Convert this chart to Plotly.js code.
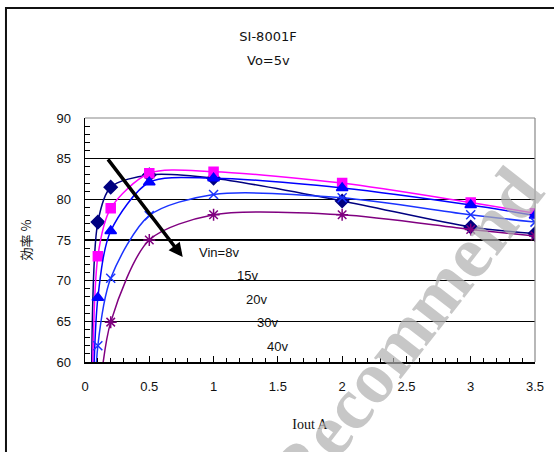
<!DOCTYPE html>
<html><head><meta charset="utf-8">
<script src="https://cdn.plot.ly/plotly-3.0.1.min.js"></script>
<style>html,body{margin:0;padding:0;background:#fff;}#chart{width:554px;height:452px;}</style>
</head><body><div id="chart"></div>
<script>
// Data (Iout in A, efficiency in %)
const x8v  = [0.05, 0.1, 0.2, 0.5, 1, 2, 3, 3.5];
const y8v  = [55, 77.2, 81.5, 83.0, 82.6, 79.8, 76.6, 75.8];
const x15v = [0.05, 0.1, 0.2, 0.5, 1, 2, 3, 3.5];
const y15v = [40, 73.0, 78.9, 83.2, 83.4, 82.0, 79.6, 78.3];
const x20v = [0.05, 0.1, 0.2, 0.5, 1, 2, 3, 3.5];
const y20v = [45, 67.9, 76.1, 82.1, 82.6, 81.4, 79.3, 78.0];
const x30v = [0.05, 0.1, 0.2, 0.5, 1, 2, 3, 3.5];
const y30v = [40, 62.0, 70.3, 78.0, 80.6, 80.2, 78.1, 77.2];
const x40v = [0.1, 0.2, 0.5, 1, 2, 3, 3.5];
const y40v = [54, 64.9, 75.0, 78.1, 78.1, 76.3, 75.5];
const seriesNames = ['Vin=8v', '15v', '20v', '30v', '40v'];
const titleLines = ['SI-8001F', 'Vo=5v'];
const xTitle = 'Iout A';
const yTitle = '効率 %';

function tr(x, y, color, symbol, size, name) {
  return {
    x: x, y: y, name: name, type: 'scatter', mode: 'lines+markers',
    line: {color: color, width: 1.5, shape: 'spline', smoothing: 0.8},
    marker: {color: color, symbol: symbol, size: size, line: {color: color, width: 1.5}},
    cliponaxis: true
  };
}
const data = [
  tr(x8v, y8v, '#000080', 'diamond', 10, seriesNames[0]),
  tr(x15v, y15v, '#ff00ff', 'square', 9, seriesNames[1]),
  tr(x20v, y20v, '#0000ff', 'triangle-up', 10, seriesNames[2]),
  tr(x30v, y30v, '#1a33ff', 'x-thin-open', 9, seriesNames[3]),
  tr(x40v, y40v, '#800080', 'asterisk-open', 10, seriesNames[4])
];

const labelFont = {family: 'Liberation Sans, Arial, sans-serif', size: 13, color: '#111'};
const titleFont = {family: 'DejaVu Sans, sans-serif', size: 13, color: '#111'};
const layout = {
  width: 554, height: 452,
  margin: {l: 85, r: 19, t: 118, b: 90},
  paper_bgcolor: '#fff', plot_bgcolor: '#fff',
  showlegend: false,
  title: {text: titleLines[0], x: 268 / 554, xref: 'container', xanchor: 'center',
          y: 1 - 32 / 452, yref: 'container', yanchor: 'top', font: titleFont},
  xaxis: {
    range: [0, 3.5], tick0: 0, dtick: 0.5, ticks: 'inside', ticklen: 6, tickwidth: 1.2, tickcolor: '#000',
    minor: {dtick: 0.1, ticks: 'inside', ticklen: 4, tickcolor: '#000', tickwidth: 1},
    showline: true, linecolor: '#000', linewidth: 1.5, showgrid: false, zeroline: false,
    tickfont: labelFont, ticklabelstandoff: 12,
    title: {text: xTitle, font: {family: 'Liberation Serif, serif', size: 14, color: '#111'}, standoff: 26}
  },
  yaxis: {
    range: [60, 90], tick0: 60, dtick: 5, ticks: 'inside', ticklen: 6, tickwidth: 1.2, tickcolor: '#000',
    minor: {dtick: 1, ticks: 'inside', ticklen: 5, tickcolor: '#000', tickwidth: 1},
    showline: true, linecolor: '#000', linewidth: 1.5,
    showgrid: true, gridcolor: '#000', gridwidth: 1.5, zeroline: false,
    tickfont: labelFont, ticklabelstandoff: 10,
    title: {text: yTitle, font: {family: 'Noto Sans CJK JP, sans-serif', size: 13, color: '#111'}, standoff: 22}
  },
  shapes: [
    {type: 'line', xref: 'paper', yref: 'paper', x0: 0, x1: 1, y0: 1, y1: 1, line: {color: '#888', width: 1.2}},
    {type: 'line', xref: 'paper', yref: 'paper', x0: 1, x1: 1, y0: 0, y1: 1, line: {color: '#888', width: 1.2}},
    {type: 'rect', xref: 'paper', yref: 'paper', x0: -0.1756, x1: 1.12, y0: -0.45, y1: 1.4508,
     line: {color: '#111', width: 2}, layer: 'above'}
  ],
  annotations: [
    {x: (268 - 85) / 450, y: (362 - 60) / 244, xref: 'paper', yref: 'paper', text: titleLines[1], showarrow: false,
     xanchor: 'center', yanchor: 'middle', font: titleFont},
    {x: 0.76, y: 72.9, ax: 0.17, ay: 85.1, xref: 'x', yref: 'y', axref: 'x', ayref: 'y',
     showarrow: true, arrowhead: 2, arrowsize: 0.8, arrowwidth: 3.5, arrowcolor: '#000', text: ''},
    {x: 1.04, y: 73.5, xref: 'x', yref: 'y', text: seriesNames[0], showarrow: false, font: labelFont},
    {x: 1.26, y: 70.6, xref: 'x', yref: 'y', text: seriesNames[1], showarrow: false, font: labelFont},
    {x: 1.33, y: 67.7, xref: 'x', yref: 'y', text: seriesNames[2], showarrow: false, font: labelFont},
    {x: 1.42, y: 64.8, xref: 'x', yref: 'y', text: seriesNames[3], showarrow: false, font: labelFont},
    {x: 1.5, y: 61.9, xref: 'x', yref: 'y', text: seriesNames[4], showarrow: false, font: labelFont},
    {x: (405 - 85) / 450, y: (362 - 333) / 244, xref: 'paper', yref: 'paper', text: 'Recommend',
     xanchor: 'center', yanchor: 'middle',
     showarrow: false, textangle: -52, opacity: 0.7,
     font: {family: 'Liberation Serif, serif', size: 74, color: '#b0b0b0', weight: 'bold'}}
  ]
};
Plotly.newPlot('chart', data, layout, {displayModeBar: false, staticPlot: true});
</script></body></html>
